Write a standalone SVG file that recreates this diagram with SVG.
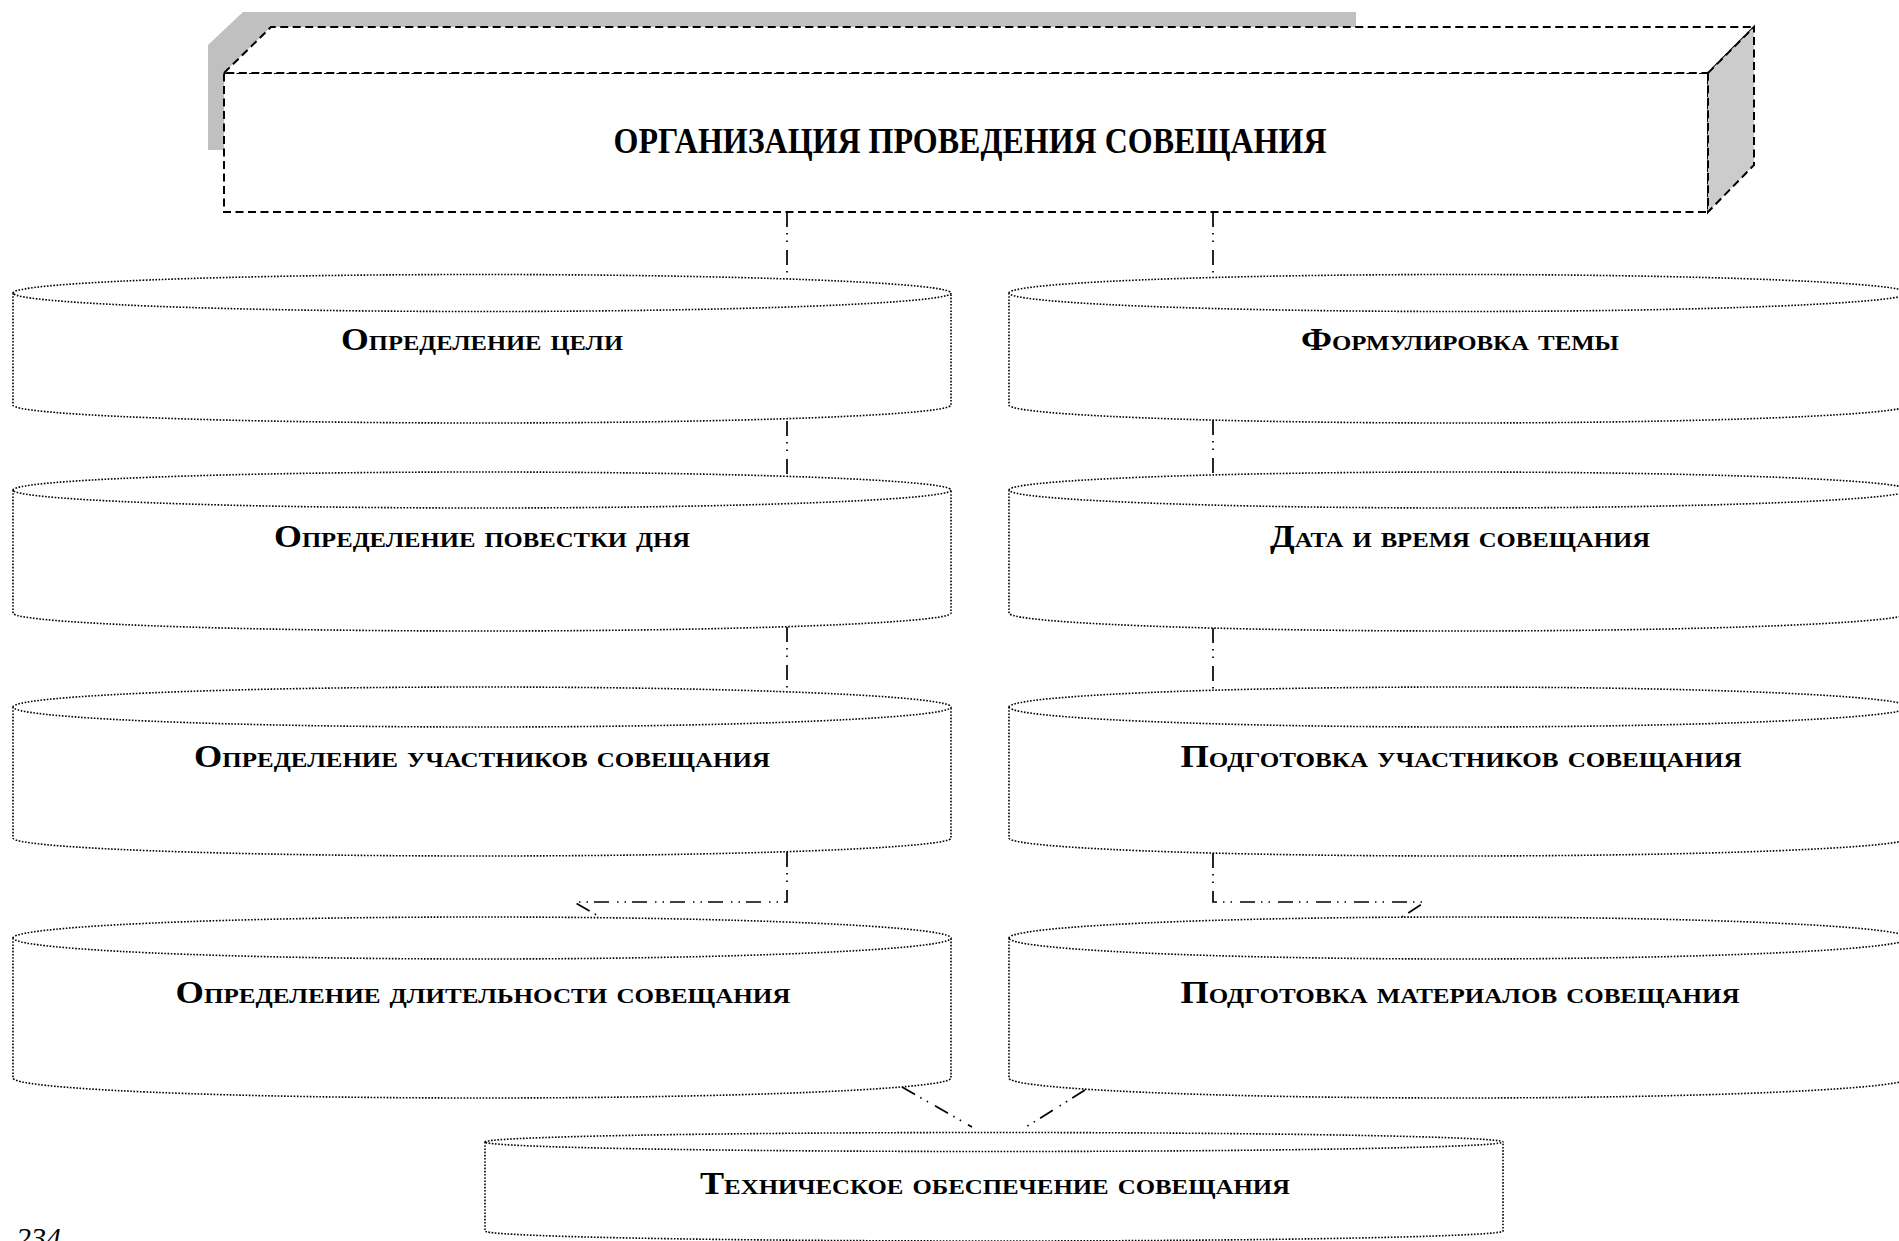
<svg xmlns="http://www.w3.org/2000/svg" width="1899" height="1241" viewBox="0 0 1899 1241">
<style>
.cyl{fill:#fff;stroke:#000;stroke-width:1.6;stroke-dasharray:1.6 1.6}
.box{fill:#fff;stroke:#000;stroke-width:2;stroke-dasharray:8 4.5}
.con{fill:none;stroke:#000;stroke-width:1.7;stroke-dasharray:15 6 1.5 6 1.5 8}
.lbl{font-family:"Liberation Serif","Times New Roman",serif;font-weight:bold;font-size:32px;font-variant:small-caps;text-anchor:middle;fill:#000}
.ttl{font-family:"Liberation Serif","Times New Roman",serif;font-weight:bold;font-size:36px;text-anchor:middle;fill:#000}
</style>
<rect width="1899" height="1241" fill="#fff"/>
<g id="title">
<polygon points="208,150 208,45 243,12 1356,12 1356,27 271,27 224,73 224,150" fill="#c0c0c0"/>
<rect class="box" x="224" y="73" width="1484" height="139"/>
<polygon class="box" points="224,73 271,27 1754,27 1708,73" fill="none"/>
<polygon class="box" points="1708,73 1754,27 1754,165 1708,212" style="fill:#cccccc"/>
<text class="ttl" x="970" y="153" textLength="713" lengthAdjust="spacingAndGlyphs">ОРГАНИЗАЦИЯ ПРОВЕДЕНИЯ СОВЕЩАНИЯ</text>
</g>
<g id="connectors">
<path class="con" d="M787,212 V279"/>
<path class="con" d="M787,421 V476"/>
<path class="con" d="M787,627 V692"/>
<path class="con" d="M787,852 V902 H574 L600,917"/>
<path class="con" d="M1213,212 V278"/>
<path class="con" d="M1213,420 V475"/>
<path class="con" d="M1213,628 V690"/>
<path class="con" d="M1213,853 V902 H1425 L1402,917"/>
<path class="con" d="M902,1087 L972,1127"/>
<path class="con" d="M1085,1090 L1026,1127"/>
</g>
<g id="n-goal">
<path class="cyl" d="M13,293 A469,18.5 0 1,1 951,293 A469,18.5 0 1,1 13,293 Z M13,293 V405 A469,18 0 0,0 951,405 V293"/>
<text class="lbl" x="482" y="350" textLength="282" lengthAdjust="spacingAndGlyphs">Определение цели</text>
</g>
<g id="n-theme">
<path class="cyl" d="M1009,293 A450,18.5 0 1,1 1909,293 A450,18.5 0 1,1 1009,293 Z M1009,293 V405 A450,18 0 0,0 1909,405 V293"/>
<text class="lbl" x="1460" y="350" textLength="318" lengthAdjust="spacingAndGlyphs">Формулировка темы</text>
</g>
<g id="n-agenda">
<path class="cyl" d="M13,490 A469,18 0 1,1 951,490 A469,18 0 1,1 13,490 Z M13,490 V613 A469,18 0 0,0 951,613 V490"/>
<text class="lbl" x="482" y="547" textLength="416" lengthAdjust="spacingAndGlyphs">Определение повестки дня</text>
</g>
<g id="n-date">
<path class="cyl" d="M1009,490 A450,18 0 1,1 1909,490 A450,18 0 1,1 1009,490 Z M1009,490 V613 A450,18 0 0,0 1909,613 V490"/>
<text class="lbl" x="1460" y="547" textLength="380" lengthAdjust="spacingAndGlyphs">Дата и время совещания</text>
</g>
<g id="n-participants">
<path class="cyl" d="M13,707 A469,20 0 1,1 951,707 A469,20 0 1,1 13,707 Z M13,707 V838 A469,18 0 0,0 951,838 V707"/>
<text class="lbl" x="482" y="767" textLength="576" lengthAdjust="spacingAndGlyphs">Определение участников совещания</text>
</g>
<g id="n-prep-participants">
<path class="cyl" d="M1009,707 A450,20 0 1,1 1909,707 A450,20 0 1,1 1009,707 Z M1009,707 V838 A450,18 0 0,0 1909,838 V707"/>
<text class="lbl" x="1461" y="767" textLength="561" lengthAdjust="spacingAndGlyphs">Подготовка участников совещания</text>
</g>
<g id="n-duration">
<path class="cyl" d="M13,938 A469,21 0 1,1 951,938 A469,21 0 1,1 13,938 Z M13,938 V1078 A469,20 0 0,0 951,1078 V938"/>
<text class="lbl" x="483" y="1003" textLength="615" lengthAdjust="spacingAndGlyphs">Определение длительности совещания</text>
</g>
<g id="n-materials">
<path class="cyl" d="M1009,938 A450,21 0 1,1 1909,938 A450,21 0 1,1 1009,938 Z M1009,938 V1078 A450,20 0 0,0 1909,1078 V938"/>
<text class="lbl" x="1460" y="1003" textLength="559" lengthAdjust="spacingAndGlyphs">Подготовка материалов совещания</text>
</g>
<g id="n-tech">
<path class="cyl" d="M485,1142 A509,9.5 0 1,1 1503,1142 A509,9.5 0 1,1 485,1142 Z M485,1142 V1231 A509,10 0 0,0 1503,1231 V1142"/>
<text class="lbl" x="995" y="1194" textLength="590" lengthAdjust="spacingAndGlyphs">Техническое обеспечение совещания</text>
</g>
<text x="16" y="1248" font-family="'Liberation Serif','Times New Roman',serif" font-style="italic" font-size="30">234</text>
</svg>
